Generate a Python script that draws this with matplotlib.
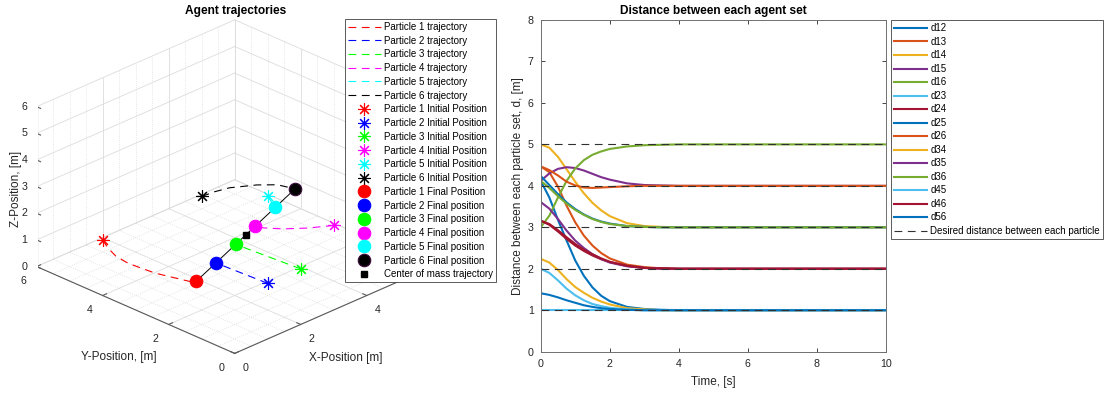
import numpy as np
import matplotlib
matplotlib.use("Agg")
import matplotlib.pyplot as plt
from mpl_toolkits.mplot3d import proj3d

plt.rcParams['font.family'] = ['Liberation Sans', 'DejaVu Sans']

# ---------------- particle data (z = 1 plane) ----------------
particle_names = ['Particle 1', 'Particle 2', 'Particle 3', 'Particle 4', 'Particle 5', 'Particle 6']
particle_colors = ['#ff0000', '#0000ff', '#00ff00', '#ff00ff', '#00ffff', '#000000']
final_suffix = ['Final Position', 'Final position', 'Final position',
                'Final position', 'Final position', 'Final position']

init_x = [1.0, 2.0, 3.0, 5.0, 5.0, 4.0]
init_y = [5.0, 1.0, 1.0, 2.0, 4.0, 5.0]
init_z = [1.0, 1.0, 1.0, 1.0, 1.0, 1.0]

final_x = [0.98, 1.92, 2.86, 3.80, 4.74, 5.68]
final_y = [2.15, 2.49, 2.83, 3.17, 3.51, 3.85]
final_z = [1.0, 1.0, 1.0, 1.0, 1.0, 1.0]

# sampled trajectory waypoints of each particle
traj1_x = [1.0, 0.80, 0.64, 0.58, 0.61, 0.65, 0.76, 0.88, 0.98]
traj1_y = [5.0, 4.64, 4.24, 3.81, 3.44, 3.05, 2.67, 2.26, 2.15]
traj2_x = [2.0, 1.96, 1.92]
traj2_y = [1.0, 1.75, 2.49]
traj3_x = [3.0, 2.93, 2.86]
traj3_y = [1.0, 1.90, 2.83]
traj4_x = [5.0, 4.52, 4.12, 3.85, 3.80]
traj4_y = [2.0, 2.30, 2.64, 2.98, 3.17]
traj5_x = [5.0, 4.85, 4.74]
traj5_y = [4.0, 3.72, 3.51]
traj6_x = [4.0, 4.35, 4.72, 5.24, 5.55, 5.68]
traj6_y = [5.0, 4.97, 4.88, 4.56, 4.26, 3.85]
traj_z = 1.0

com_x = [3.33]
com_y = [3.00]
com_z = [1.0]

# ---------------- inter-agent distances ----------------
time_s = [0, 0.25, 0.5, 0.75, 1.0, 1.25, 1.5, 1.75, 2.0, 2.5, 3.0, 3.5, 4.0, 10.0]
pair_labels = ['d12', 'd13', 'd14', 'd15', 'd16', 'd23', 'd24', 'd25',
               'd26', 'd34', 'd35', 'd36', 'd45', 'd46', 'd56']
d12 = [4.12, 3.72, 3.18, 2.68, 2.20, 1.83, 1.55, 1.35, 1.22, 1.08, 1.03, 1.01, 1.0, 1.0]
d13 = [4.47, 4.33, 3.98, 3.52, 3.12, 2.80, 2.56, 2.38, 2.25, 2.10, 2.04, 2.01, 2.0, 2.0]
d14 = [5.00, 4.92, 4.70, 4.40, 4.10, 3.82, 3.59, 3.41, 3.27, 3.10, 3.03, 3.01, 3.0, 3.0]
d15 = [4.12, 4.30, 4.41, 4.45, 4.43, 4.37, 4.29, 4.21, 4.15, 4.06, 4.02, 4.01, 4.0, 4.0]
d16 = [3.00, 3.28, 3.72, 4.12, 4.42, 4.62, 4.75, 4.83, 4.89, 4.95, 4.98, 4.99, 5.0, 5.0]
d23 = [1.00, 1.00, 1.00, 1.00, 1.00, 1.00, 1.00, 1.00, 1.00, 1.00, 1.00, 1.00, 1.0, 1.0]
d24 = [3.16, 3.06, 2.90, 2.72, 2.56, 2.43, 2.32, 2.23, 2.16, 2.07, 2.02, 2.01, 2.0, 2.0]
d25 = [4.24, 4.02, 3.80, 3.60, 3.44, 3.31, 3.21, 3.14, 3.09, 3.03, 3.01, 3.00, 3.0, 3.0]
d26 = [4.47, 4.38, 4.25, 4.10, 4.01, 3.96, 3.95, 3.96, 3.97, 3.99, 4.00, 4.00, 4.0, 4.0]
d34 = [2.24, 2.15, 1.97, 1.75, 1.56, 1.42, 1.30, 1.21, 1.14, 1.05, 1.02, 1.00, 1.0, 1.0]
d35 = [3.61, 3.45, 3.20, 2.92, 2.68, 2.50, 2.35, 2.24, 2.15, 2.06, 2.02, 2.00, 2.0, 2.0]
d36 = [4.12, 3.95, 3.75, 3.57, 3.42, 3.30, 3.20, 3.13, 3.08, 3.03, 3.01, 3.00, 3.0, 3.0]
d45 = [2.00, 1.90, 1.72, 1.52, 1.36, 1.24, 1.15, 1.10, 1.06, 1.02, 1.00, 1.00, 1.0, 1.0]
d46 = [3.16, 3.08, 2.93, 2.76, 2.60, 2.46, 2.35, 2.25, 2.17, 2.07, 2.02, 2.01, 2.0, 2.0]
d56 = [1.41, 1.37, 1.31, 1.24, 1.18, 1.12, 1.08, 1.05, 1.03, 1.01, 1.00, 1.00, 1.0, 1.0]
desired_dist = [1, 2, 3, 4, 5]

matlab_colors = ['#0072BD', '#D95319', '#EDB120', '#7E2F8E', '#77AC30', '#4DBEEE', '#A2142F']

TICK_FS = 7.7
LABEL_FS = 8.5
TITLE_FS = 8.6
LEG_FS = 7.0
TEXT_C = '#262626'

fig = plt.figure(figsize=(11.09, 3.95), dpi=100)

# ======================= 3-D trajectories =======================
ax3 = fig.add_axes([0.0, 11.4 / 395, 459 / 1109, 383.6 / 395], projection='3d',
                   computed_zorder=False)
ax3.set_proj_type('ortho')
ax3.view_init(elev=26, azim=-135)
ax3.set_xlim(0, 6)
ax3.set_ylim(0, 6)
ax3.set_zlim(0, 6)
ax3.set_box_aspect((1, 1, 0.635), zoom=1.099)
ax3.set_axis_off()

grid_major = dict(color='#dcdcdc', lw=0.6, zorder=1)
grid_minor = dict(color='#d0d0d0', lw=0.5, ls=(0, (1, 2)), zorder=1)
majors = [0, 2, 4, 6]
minors = [v for v in np.arange(0, 6.01, 0.5) if v not in majors]
zmaj = [0, 1, 2, 3, 4, 5, 6]
# the x = 6 tick label sits under the legend box, so it is not written
x_labelled = [0, 2, 4]

# floor (z = 0)
for v in majors:
    ax3.plot([v, v], [0, 6], [0, 0], **grid_major)
    ax3.plot([0, 6], [v, v], [0, 0], **grid_major)
for v in minors:
    ax3.plot([v, v], [0, 6], [0, 0], **grid_minor)
    ax3.plot([0, 6], [v, v], [0, 0], **grid_minor)
# back wall y = 6
for v in majors:
    ax3.plot([v, v], [6, 6], [0, 6], **grid_major)
for v in minors:
    ax3.plot([v, v], [6, 6], [0, 6], **grid_minor)
for v in zmaj:
    ax3.plot([0, 6], [6, 6], [v, v], **grid_major)
# back wall x = 6
for v in majors:
    ax3.plot([6, 6], [v, v], [0, 6], **grid_major)
for v in minors:
    ax3.plot([6, 6], [v, v], [0, 6], **grid_minor)
for v in zmaj:
    ax3.plot([6, 6], [0, 6], [v, v], **grid_major)

# axis lines and tick marks
axis_c = '#5a5a5a'
ax3.plot([0, 0], [0, 6], [0, 0], color=axis_c, lw=0.8, zorder=2)
ax3.plot([0, 6], [0, 0], [0, 0], color=axis_c, lw=0.8, zorder=2)
ax3.plot([0, 0], [6, 6], [0, 6], color=axis_c, lw=0.8, zorder=2)
for v in majors:
    ax3.plot([0, 0.12], [v, v], [0, 0], color=axis_c, lw=0.8, zorder=2)
    ax3.plot([v, v], [0, 0.12], [0, 0], color=axis_c, lw=0.8, zorder=2)
for v in zmaj:
    ax3.plot([0, 0], [6, 5.88], [v, v], color=axis_c, lw=0.8, zorder=2)

traj_x = [traj1_x, traj2_x, traj3_x, traj4_x, traj5_x, traj6_x]
traj_y = [traj1_y, traj2_y, traj3_y, traj4_y, traj5_y, traj6_y]

handles = []
for i in range(6):
    h, = ax3.plot(traj_x[i], traj_y[i], [traj_z] * len(traj_x[i]),
                  color=particle_colors[i], lw=0.8, ls=(0, (7, 5)), zorder=4,
                  label=f'{particle_names[i]} trajectory')
    handles.append(h)

# line through the final formation
ax3.plot(final_x, final_y, final_z, color='black', lw=0.7, zorder=5)

star = (8, 2, 0)
for i in range(6):
    h, = ax3.plot([init_x[i]], [init_y[i]], [init_z[i]], ls='none', marker=star,
                  ms=9, mew=0.8, color=particle_colors[i], zorder=6,
                  label=f'{particle_names[i]} Initial Position')
    handles.append(h)
for i in range(6):
    edge = '#3a0a3a' if i == 5 else particle_colors[i]
    h, = ax3.plot([final_x[i]], [final_y[i]], [final_z[i]], ls='none', marker='o',
                  ms=9, mfc=particle_colors[i], mec=edge, mew=0.8, zorder=7,
                  label=f'{particle_names[i]} {final_suffix[i]}')
    handles.append(h)
h, = ax3.plot(com_x, com_y, com_z, ls='none', marker='s', ms=4, color='black',
              zorder=8, label='Center of mass trajectory')
handles.append(h)

# tick and axis labels, placed at projected 3-D anchor points
M = ax3.get_proj()


def label3d(x, y, z, s, **kw):
    px, py, _ = proj3d.proj_transform(x, y, z, M)
    ax3.text2D(px, py, s, transform=ax3.transData, color=TEXT_C,
               ha='center', va='center', zorder=3, **kw)


for v in majors:
    label3d(-0.4, v, -0.33, str(v), fontsize=TICK_FS)
for v in x_labelled:
    label3d(v, -0.33, -0.36, str(v), fontsize=TICK_FS)
for v in zmaj:
    label3d(0, 6.37, v - 0.2, str(v), fontsize=TICK_FS)
label3d(-0.5, 3, -1.5, 'Y-Position, [m]', fontsize=LABEL_FS)
label3d(3, -0.35, -1.6, 'X-Position [m]', fontsize=LABEL_FS)
label3d(0, 6.61, 2.58, 'Z-Position, [m]', fontsize=LABEL_FS, rotation=90)

fig.text(236 / 1109, 1 - 11 / 395, 'Agent trajectories', fontsize=TITLE_FS,
         fontweight='bold', ha='center', va='center')

leg1 = fig.legend(handles=handles, loc='upper left',
                  bbox_to_anchor=(345 / 1109, 1 - 19 / 395),
                  fontsize=LEG_FS, frameon=True, fancybox=False,
                  edgecolor='#404040', framealpha=1, borderpad=0.3,
                  labelspacing=0.385, handlelength=3.4, handletextpad=0.3,
                  borderaxespad=0)
leg1.get_frame().set_linewidth(0.6)

# ======================= distance curves =======================
ax = fig.add_axes([540.7 / 1109, 1 - 351.7 / 395, (886 - 540.7) / 1109, (351.7 - 20) / 395])
series = [d12, d13, d14, d15, d16, d23, d24, d25, d26, d34, d35, d36, d45, d46, d56]
for k, (lab, vals) in enumerate(zip(pair_labels, series)):
    ax.plot(time_s, vals, color=matlab_colors[k % 7], lw=1.5, label=lab)
for j, d in enumerate(desired_dist):
    ax.plot([time_s[0], time_s[-1]], [d, d], color='#303030', lw=0.8,
            ls=(0, (7, 5)),
            label='Desired distance between each particle' if j == 0 else None)

ax.set_xlim(0, 10)
ax.set_ylim(0, 8)
ax.set_xticks([0, 2, 4, 6, 8, 10])
ax.set_yticks([0, 1, 2, 3, 4, 5, 6, 7, 8])
ax.tick_params(direction='in', length=3, width=0.6, colors=TEXT_C,
               labelsize=TICK_FS, top=True, right=True, pad=5)
for s in ax.spines.values():
    s.set_color('#707070')
    s.set_linewidth(0.7)
ax.set_xlabel('Time, [s]', fontsize=LABEL_FS, color=TEXT_C, labelpad=5)
ax.set_ylabel('Distance between each particle set, d, [m]', fontsize=LABEL_FS,
              color=TEXT_C, labelpad=3)
ax.set_title('Distance between each agent set', fontsize=TITLE_FS,
             fontweight='bold', pad=4)

leg2 = ax.legend(loc='upper left', bbox_to_anchor=(891 / 1109, 1 - 20 / 395),
                 bbox_transform=fig.transFigure, fontsize=LEG_FS, frameon=True,
                 fancybox=False, edgecolor='#404040', framealpha=1,
                 borderpad=0.35, labelspacing=0.36, handlelength=3.4,
                 handletextpad=0.3, borderaxespad=0)
leg2.get_frame().set_linewidth(0.6)

fig.savefig('out.png', dpi=100)
